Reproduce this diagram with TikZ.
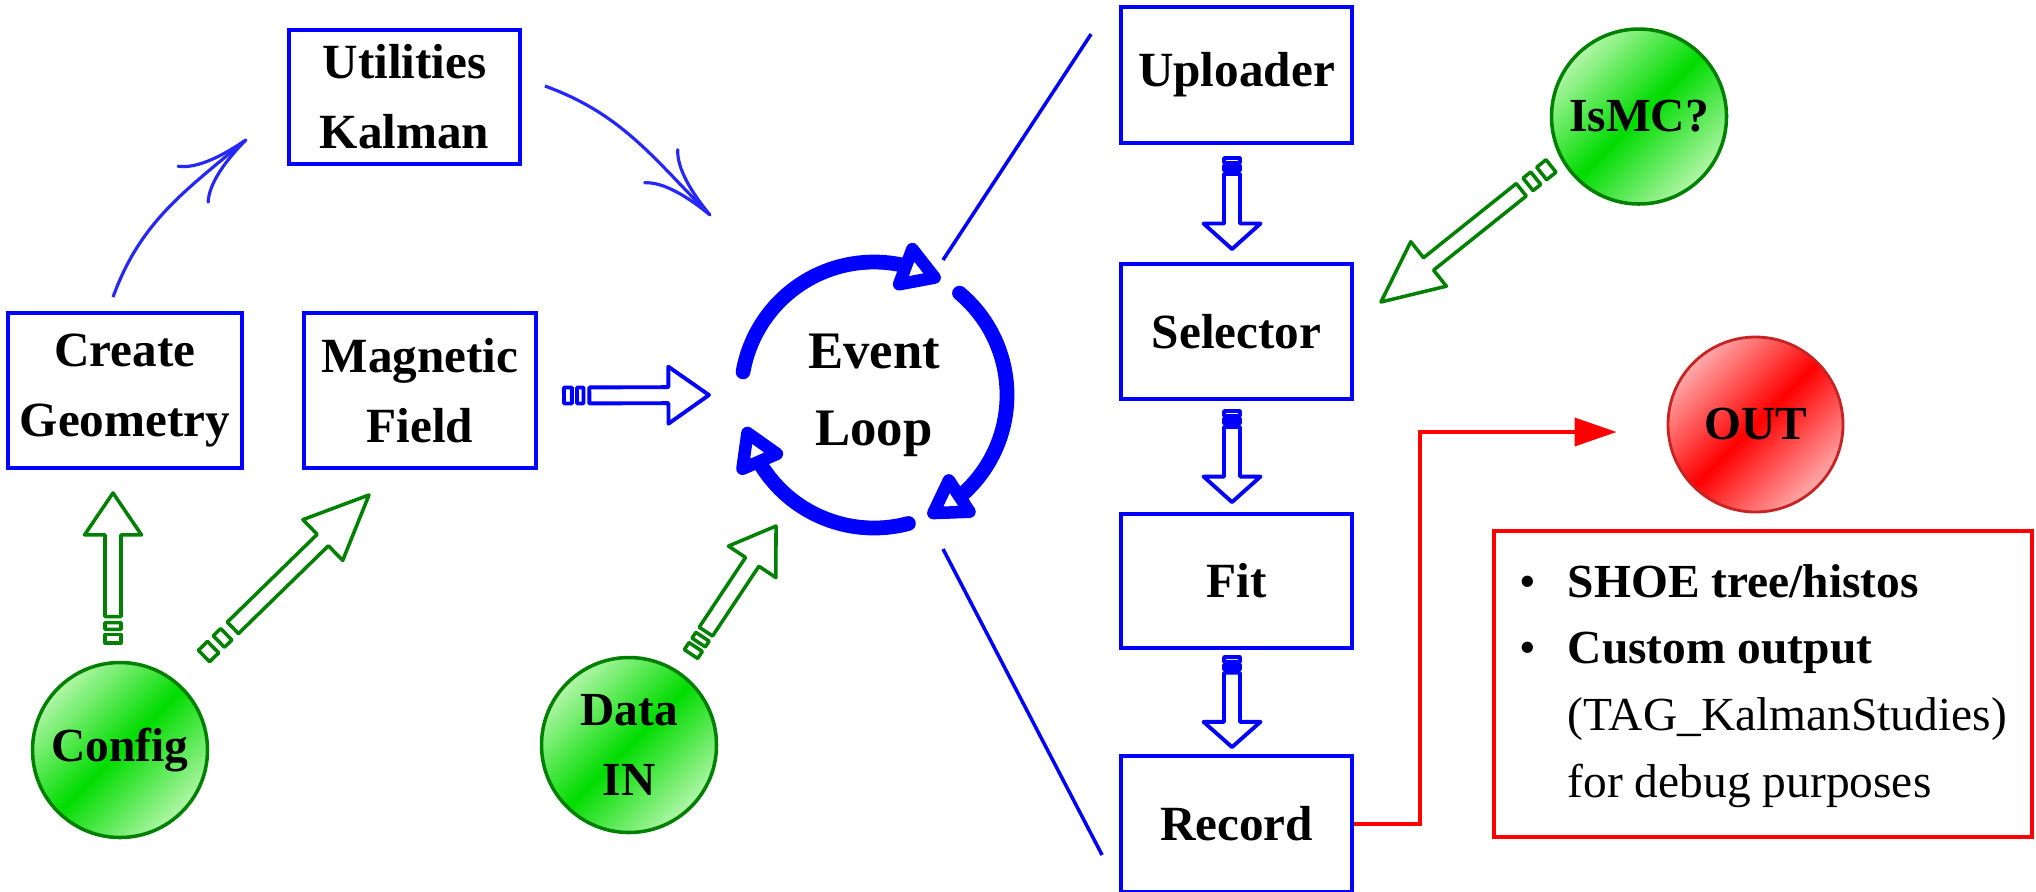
\documentclass[tikz,border=0pt]{standalone}
\usepackage{fontspec}
\setmainfont{Liberation Serif}
\usetikzlibrary{arrows.meta, bending, calc, positioning}

\definecolor{loopblue}{RGB}{0,0,255}
\definecolor{cfggreen}{RGB}{0,128,0}
\definecolor{ballpale}{RGB}{178,246,168}
\definecolor{ballmid}{RGB}{0,220,0}
\definecolor{outpale}{RGB}{255,170,170}
\definecolor{outred}{RGB}{255,0,0}
\definecolor{outrim}{RGB}{200,35,35}

% striped block arrow: #1 style, #2 tail point, #3 tip point
\newcommand{\fatarrow}[3]{%
  \coordinate (fa-s) at (#2);
  \coordinate (fa-t) at (#3);
  \coordinate (fa-a) at ($(fa-s)!0.175!(fa-t)$);
  \coordinate (fa-b) at ($(fa-s)!0.72!(fa-t)$);
  \coordinate (fa-c) at ($(fa-s)!0.055!(fa-t)$);
  \coordinate (fa-d) at ($(fa-s)!0.09!(fa-t)$);
  \coordinate (fa-e) at ($(fa-s)!0.135!(fa-t)$);
  \draw[#1] ($(fa-a)!0.08cm!90:(fa-t)$) -- ($(fa-b)!0.08cm!90:(fa-t)$)
    -- ($(fa-b)!0.285cm!90:(fa-t)$) -- (fa-t)
    -- ($(fa-b)!0.285cm!-90:(fa-t)$) -- ($(fa-b)!0.08cm!-90:(fa-t)$)
    -- ($(fa-a)!0.08cm!-90:(fa-t)$) -- cycle;
  \draw[#1] ($(fa-s)!0.08cm!90:(fa-t)$) -- ($(fa-c)!0.08cm!90:(fa-t)$)
    -- ($(fa-c)!0.08cm!-90:(fa-t)$) -- ($(fa-s)!0.08cm!-90:(fa-t)$) -- cycle;
  \draw[#1] ($(fa-d)!0.08cm!90:(fa-t)$) -- ($(fa-e)!0.08cm!90:(fa-t)$)
    -- ($(fa-e)!0.08cm!-90:(fa-t)$) -- ($(fa-d)!0.08cm!-90:(fa-t)$) -- cycle;
}

\tikzset{
  stage/.style={draw=loopblue, line width=1.1pt, minimum width=2.31cm, minimum height=1.35cm,
    align=center, font=\bfseries\fontsize{14}{20}\selectfont},
  greenball/.style={circle, draw=cfggreen, line width=1pt, minimum size=1.75cm, inner sep=0pt,
    top color=ballpale, bottom color=ballpale, middle color=ballmid, shading angle=45,
    align=center, font=\bfseries\fontsize{13.5}{20}\selectfont},
  redball/.style={greenball, draw=outrim, line width=0.8pt,
    top color=outpale, bottom color=outpale, middle color=outred, shading angle=45},
  notebox/.style={draw=outred, line width=1.1pt, minimum width=5.38cm, minimum height=3.06cm,
    font=\fontsize{13.5}{19}\selectfont},
  looptext/.style={align=center, font=\bfseries\fontsize{15}{22}\selectfont},
  looparc/.style={draw=loopblue, line width=4.2pt, line cap=round,
    -{Triangle[open, round, length=0.5cm, width=0.56cm]}},
  thinarrow/.style={draw=loopblue!85!white, line width=0.9pt,
    -{Computer Modern Rightarrow[length=0.72cm, width=0.5cm]}},
  spoke/.style={draw=loopblue, line width=1pt},
  outlink/.style={draw=outred, line width=1pt, -{Triangle[length=0.42cm, width=0.28cm]}},
  blockgreen/.style={draw=cfggreen, line width=1pt, line join=round, fill=white},
  blockblue/.style={draw=loopblue, line width=1.1pt, line join=round, fill=white}
}

\begin{document}
\begin{tikzpicture}
    \useasboundingbox (0,0) rectangle (20.36,-8.91);

    % Left side: setup stages
    \node[stage, minimum height=1.34cm] (util) at (4.045,-0.97) {Utilities\\Kalman};
    \node[stage, minimum width=2.32cm, minimum height=1.55cm] (geom) at (1.25,-3.905) {Create\\Geometry};
    \node[stage, minimum width=2.32cm, minimum height=1.55cm] (field) at (4.20,-3.905) {Magnetic\\Field};

    % Inputs
    \node[greenball] (config) at (1.20,-7.50) {Config};
    \node[greenball] (datain) at (6.29,-7.45) {Data\\IN};
    \node[greenball] (ismc) at (16.39,-1.165) {IsMC?};

    % Event loop
    \node[looptext] (loop) at (8.74,-3.95) {Event\\Loop};
    \draw[looparc] ([shift={(170:1.33)}]loop.center) arc[start angle=170, end angle=60, radius=1.33];
    \draw[looparc] ([shift={(50:1.33)}]loop.center) arc[start angle=50, end angle=-66, radius=1.33];
    \draw[looparc] ([shift={(-75:1.33)}]loop.center) arc[start angle=-75, end angle=-166, radius=1.33];

    % Right column: per-event steps
    \node[stage, minimum height=1.36cm] (upl) at (12.365,-0.75) {Uploader};
    \node[stage] (sel) at (12.365,-3.315) {Selector};
    \node[stage, minimum height=1.34cm] (fit) at (12.365,-5.81) {Fit};
    \node[stage, minimum height=1.36cm] (rec) at (12.365,-8.24) {Record};

    % Output
    \node[redball] (out) at (17.555,-4.245) {OUT};
    \node[notebox] (notes) at (17.63,-6.84) {%
        \begin{tabular}{@{}l@{\hspace{0.32cm}}l@{}}
        \textbullet & \textbf{SHOE tree/histos}\\
        \textbullet & \textbf{Custom output}\\
         & (TAG\_KalmanStudies)\\
         & for debug purposes
        \end{tabular}};

    % Thin curved arrows
    \draw[thinarrow] ([shift={(-0.12,0.14)}]geom.north) to[out=70, in=-140] ([shift={(-0.40,0.27)}]util.south west);
    \draw[thinarrow] ([shift={(0.23,0.11)}]util.east) to[out=-20, in=135] ([shift={(-1.63,1.79)}]loop.center);

    % Loop opens onto the right column
    \draw[spoke] ([shift={(0.69,1.35)}]loop.center) -- ([shift={(-0.28,-0.29)}]upl.north west);
    \draw[spoke] ([shift={(0.69,-1.54)}]loop.center) -- ([shift={(-0.17,-0.31)}]rec.west);

    % Record to output
    \draw[outlink] (rec.east) -- ++(0.66,0) |- ([shift={(-0.50,-0.075)}]out.west);

    % Block arrows
    \fatarrow{blockgreen}{[shift={(-0.07,0.18)}]config.north}{[shift={(-0.12,-0.23)}]geom.south}
    \fatarrow{blockgreen}{[shift={(0.84,0.94)}]config.center}{[shift={(-0.51,-0.25)}]field.south}
    \fatarrow{blockgreen}{[shift={(0.62,0.91)}]datain.center}{[shift={(-0.98,-1.31)}]loop.center}
    \fatarrow{blockgreen}{[shift={(-0.88,-0.495)}]ismc.center}{[shift={(0.27,0.295)}]sel.east}
    \fatarrow{blockblue}{[shift={(0.26,-0.05)}]field.east}{[xshift=-1.65cm]loop.center}
    \fatarrow{blockblue}{[shift={(-0.045,-0.13)}]upl.south}{[shift={(-0.045,0.13)}]sel.north}
    \fatarrow{blockblue}{[shift={(-0.045,-0.10)}]sel.south}{[shift={(-0.045,0.10)}]fit.north}
    \fatarrow{blockblue}{[shift={(-0.045,-0.07)}]fit.south}{[shift={(-0.045,0.07)}]rec.north}
\end{tikzpicture}
\end{document}
